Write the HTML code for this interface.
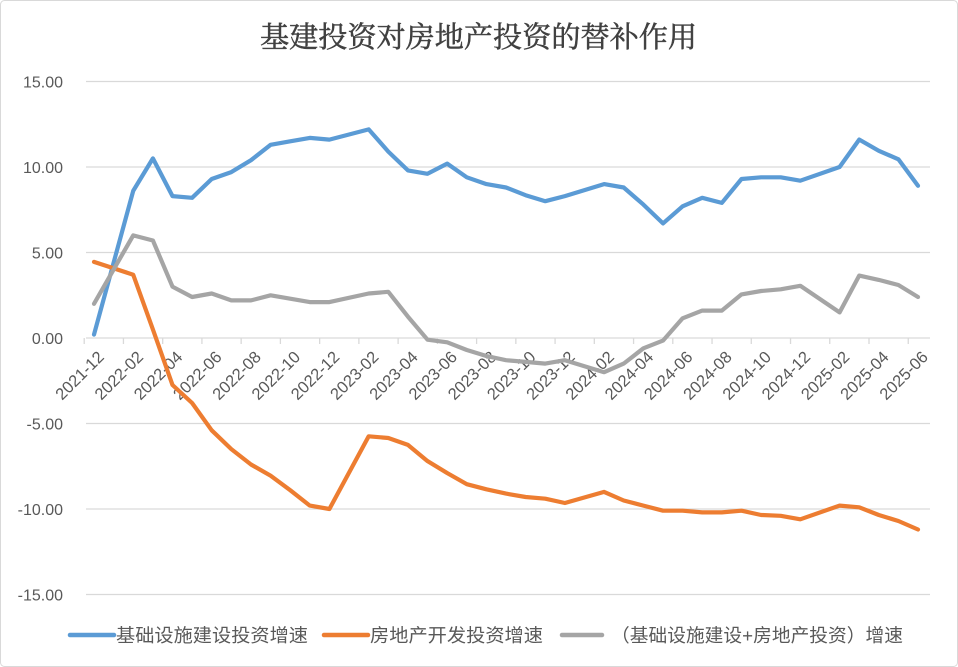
<!DOCTYPE html>
<html><head><meta charset="utf-8">
<style>
body{margin:0;background:#fff;}
svg{display:block;font-family:"Liberation Sans","Noto Sans CJK SC",sans-serif;}
</style></head>
<body>
<svg id="c" width="958" height="667" viewBox="0 0 958 667" xmlns="http://www.w3.org/2000/svg">
<rect x="0.5" y="0.5" width="957" height="666" rx="4" fill="#fff" stroke="#d9d9d9"/>
<text x="260" y="47" font-size="29" fill="#404040" stroke="#404040" stroke-width="0.5" textLength="437" lengthAdjust="spacingAndGlyphs" font-family="'Noto Serif CJK SC','Noto Sans CJK SC',serif">基建投资对房地产投资的替补作用</text>
<g id="grid"></g>
<g id="series"></g>
<g font-size="18.5" fill="#595959">
<line x1="70" y1="635" x2="114" y2="635" stroke="#5b9bd5" stroke-width="4.5" stroke-linecap="round"/>
<text x="116" y="642" textLength="192" lengthAdjust="spacingAndGlyphs">基础设施建设投资增速</text>
<line x1="324" y1="635" x2="368" y2="635" stroke="#ed7d31" stroke-width="4.5" stroke-linecap="round"/>
<text x="370" y="642" textLength="173" lengthAdjust="spacingAndGlyphs">房地产开发投资增速</text>
<line x1="562" y1="635" x2="602" y2="635" stroke="#a5a5a5" stroke-width="4.5" stroke-linecap="round"/>
<text x="611" y="642" textLength="292" lengthAdjust="spacingAndGlyphs">（基础设施建设+房地产投资）增速</text>
</g>
</svg>
<script>
var NS="http://www.w3.org/2000/svg";
function el(t,a,p,txt){var e=document.createElementNS(NS,t);for(var k in a)e.setAttribute(k,a[k]);if(txt!=null)e.textContent=txt;p.appendChild(e);return e;}
var g=document.getElementById('grid'),s=document.getElementById('series');
function Y(v){return 338-v*17.1;}
function X(i){return 94+i*19.62;}
var x0=86,x1=930;
[15,10,5,-5,-10,-15].forEach(function(v){el('line',{x1:x0,x2:x1,y1:Y(v),y2:Y(v),stroke:'#d9d9d9','stroke-width':1.3},g);});
[15,10,5,0,-5,-10,-15].forEach(function(v){el('text',{x:63,y:Y(v)+6,'text-anchor':'end','font-size':16,fill:'#595959'},g,v.toFixed(2));});
el('line',{x1:x0,x2:x1,y1:338,y2:338,stroke:'#d9d9d9','stroke-width':1.3},g);
for(var i=0;i<=42;i+=2){
  var tx=X(i)-9.8;
  el('line',{x1:tx,x2:tx,y1:338,y2:344,stroke:'#d9d9d9','stroke-width':1.3},g);
  var m=(11+i)%12+1, yr=2021+Math.floor((11+i)/12);
  var lab=yr+'-'+(m<10?'0':'')+m;
  var lx=X(i)+11, ly=358;
  el('text',{x:lx,y:ly,'text-anchor':'end','font-size':16.5,fill:'#595959',transform:'rotate(-45 '+lx+' '+ly+')'},g,lab);
}
var blue={0:0.2,2:8.6,3:10.5,4:8.3,5:8.2,6:9.3,7:9.7,8:10.4,9:11.3,10:11.5,11:11.7,12:11.6,14:12.2,15:10.9,16:9.8,17:9.6,18:10.2,19:9.4,20:9.0,21:8.8,22:8.35,23:8.0,24:8.3,26:9.0,27:8.8,28:7.8,29:6.7,30:7.7,31:8.2,32:7.9,33:9.3,34:9.4,35:9.4,36:9.2,38:10.0,39:11.6,40:10.95,41:10.45,42:8.9};
var orange={0:4.45,2:3.7,3:0.5,4:-2.75,5:-3.8,6:-5.4,7:-6.5,8:-7.4,9:-8.05,10:-8.9,11:-9.8,12:-10.0,14:-5.75,15:-5.85,16:-6.25,17:-7.2,18:-7.9,19:-8.55,20:-8.85,21:-9.1,22:-9.3,23:-9.4,24:-9.65,26:-9.0,27:-9.5,28:-9.8,29:-10.1,30:-10.1,31:-10.2,32:-10.2,33:-10.1,34:-10.35,35:-10.4,36:-10.6,38:-9.8,39:-9.9,40:-10.35,41:-10.7,42:-11.2};
var gray={0:2.0,2:6.0,3:5.7,4:3.0,5:2.4,6:2.6,7:2.2,8:2.2,9:2.5,10:2.3,11:2.1,12:2.1,14:2.6,15:2.7,16:1.25,17:-0.1,18:-0.25,19:-0.7,20:-1.05,21:-1.3,22:-1.4,23:-1.5,24:-1.3,26:-2.0,27:-1.5,28:-0.6,29:-0.15,30:1.15,31:1.6,32:1.6,33:2.55,34:2.75,35:2.85,36:3.05,38:1.5,39:3.65,40:3.4,41:3.1,42:2.4};
function line(d,c){var pts=[];for(var i=0;i<=42;i++)if(d[i]!=null)pts.push(X(i).toFixed(1)+','+Y(d[i]).toFixed(1));
el('polyline',{points:pts.join(' '),fill:'none',stroke:c,'stroke-width':4.2,'stroke-linejoin':'round','stroke-linecap':'round'},s);}
line(blue,'#5b9bd5');line(orange,'#ed7d31');line(gray,'#a5a5a5');
</script>
</body></html>
